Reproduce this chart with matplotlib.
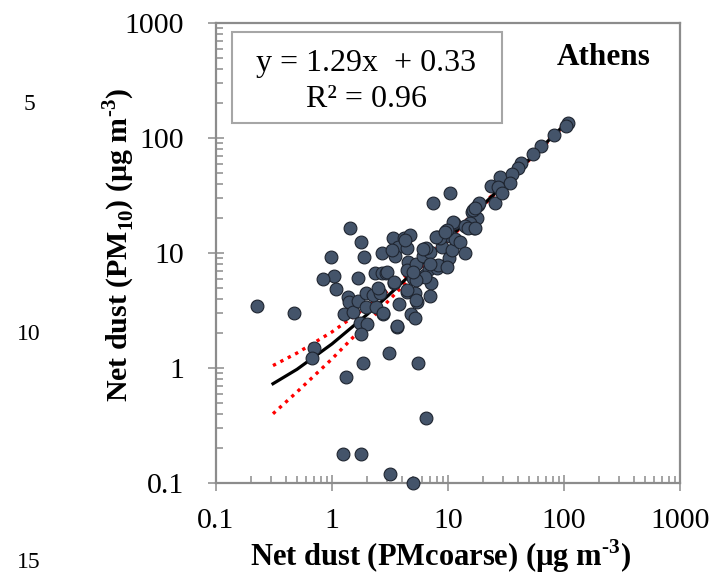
import matplotlib
matplotlib.use("Agg")
import matplotlib.pyplot as plt
from matplotlib.patches import Rectangle
from matplotlib.ticker import FixedLocator, FixedFormatter, LogLocator, NullFormatter

plt.rcParams['font.family'] = ['Liberation Serif', 'DejaVu Serif']
plt.rcParams['mathtext.fontset'] = 'custom'
plt.rcParams['mathtext.rm'] = 'Liberation Serif:bold'
plt.rcParams['mathtext.bf'] = 'Liberation Serif:bold'

# net dust PMcoarse (x) vs net dust PM10 (y), ug/m3
pm_coarse = [0.227, 0.47, 0.70, 0.67, 0.975, 1.04, 0.83, 1.08,
             1.43, 1.77, 1.89, 1.69, 1.38, 1.41, 1.28, 1.51, 1.69, 1.96, 1.96, 1.74,
             2.02, 1.77, 1.84, 1.32, 1.24, 1.77, 3.16, 4.96, 6.46, 5.55, 3.12, 3.66,
             2.77, 2.39, 2.27, 2.59, 2.51, 2.35, 2.68, 2.92, 2.68, 3.38, 4.18, 4.70,
             3.73, 4.40, 3.49, 3.27, 3.42, 3.80, 4.46, 5.20, 5.44, 4.77, 5.20, 4.55,
             4.40, 5.30, 5.02, 5.55, 6.05, 6.46, 6.99, 6.34, 6.90, 7.10, 6.99, 8.10,
             8.10, 8.80, 9.60, 10.5, 9.70, 10.1, 10.8, 11.5, 12.7, 14.0, 11.3, 14.5,
             16.0, 16.7, 17.7, 18.2, 25.4, 7.40, 10.4, 23.3, 28.0, 16.5, 11.1, 109,
             104, 82, 63, 54, 42.4, 40.4, 35.4, 34.2, 27.2, 29.0, 18.6, 17.1,
             15.5, 9.8, 8.5, 4.3, 6.46, 6.12, 7.95, 9.4, 14.0, 15.0, 17.1, 8.2,
             9.8, 7.0, 6.3, 5.3, 5.0, 2.96, 3.4, 4.4, 5.3, 2.76, 3.6]
pm10_dust = [3.46, 2.99, 1.49, 1.22, 9.2, 6.3, 5.9, 4.9,
             16.4, 12.5, 9.2, 6.1, 4.17, 3.77, 2.95, 3.09, 3.83, 4.52, 3.37, 2.45,
             2.41, 1.98, 1.11, 0.84, 0.18, 0.18, 0.12, 0.10, 0.365, 1.11, 1.36, 2.29,
             2.95, 3.37, 4.31, 4.52, 4.93, 6.75, 6.75, 6.75, 10.1, 13.4, 13.4, 14.4,
             11.3, 11.0, 9.4, 10.6, 5.52, 3.60, 4.60, 4.52, 3.77, 2.95, 2.70, 8.4,
             7.1, 8.1, 6.1, 6.03, 9.4, 10.8, 10.3, 6.44, 7.2, 5.45, 4.23, 7.36,
             13.7, 11.3, 15.6, 14.1, 7.9, 9.0, 10.6, 13.2, 12.5, 10.1, 18.3, 16.9,
             22.9, 16.4, 20.0, 26.0, 27.0, 27.0, 33.0, 38.3, 46.0, 23.6, 18.7, 136,
             127, 106, 85, 72.6, 61, 54.5, 48.7, 40.8, 37.8, 33.0, 27.4, 24.5,
             18.1, 15.8, 13.4, 13.1, 11.0, 10.8, 13.7, 15.3, 17.2, 16.4, 16.4, 7.9,
             7.6, 8.1, 6.2, 5.8, 6.8, 6.8, 5.6, 4.76, 3.9, 2.98, 2.32]

# regression line y = 1.29x + 0.33 and its confidence band
fit_x = [0.31, 0.5, 1, 2, 3, 5, 10, 20, 50, 110]
fit_y = [0.73, 0.975, 1.62, 2.91, 4.2, 6.78, 13.2, 26.1, 64.8, 142]
band_hi = [1.05, 1.35, 2.06, 3.40, 4.65, 7.15, 13.5, 26.5, 65.6, 144]
band_lo = [0.40, 0.62, 1.20, 2.45, 3.75, 6.40, 12.9, 25.7, 64.0, 140]

xticks = [0.1, 1, 10, 100, 1000]
tick_labels = ['0.1', '1', '10', '100', '1000']

W, H = 716, 582
fig = plt.figure(figsize=(W / 100, H / 100), dpi=100)
ax = fig.add_axes([216 / W, 1 - 483 / H, (680 - 216) / W, (483 - 23) / H])

ax.plot(fit_x, band_hi, color='red', lw=2.4, linestyle=(0, (1, 1.5)), zorder=2)
ax.plot(fit_x, band_lo, color='red', lw=2.4, linestyle=(0, (1, 1.5)), zorder=2)
ax.plot(fit_x, fit_y, color='black', lw=2.3, zorder=3)
ax.scatter(pm_coarse, pm10_dust, s=85, color='#44546a', edgecolors='#1f2530',
           linewidths=0.8, zorder=4, clip_on=False)

ax.set_xscale('log')
ax.set_yscale('log')
ax.set_xlim(0.1, 1000)
ax.set_ylim(0.1, 1000)

gray = '#8c8c8c'
for axis in (ax.xaxis, ax.yaxis):
    axis.set_major_locator(FixedLocator(xticks))
    axis.set_major_formatter(FixedFormatter(tick_labels))
    axis.set_minor_locator(LogLocator(base=10, subs=range(2, 10)))
    axis.set_minor_formatter(NullFormatter())
ax.tick_params(which='major', direction='inout', length=12, width=1.1, color=gray,
               labelsize=21.5, pad=12)
ax.tick_params(which='minor', direction='in', length=5, width=1.1, color=gray)
ax.tick_params(axis='y', which='major', pad=17)
for sp in ax.spines.values():
    sp.set_color(gray)
    sp.set_linewidth(1.6)

# labels
fig.text(441 / W, 1 - 556 / H, r'Net dust (PMcoarse) (µg m$^{\text{-}3}$)',
         fontsize=22, fontweight='bold', ha='center', va='center')
fig.text(119 / W, 1 - 245 / H, r'Net dust (PM$_{10}$) (µg m$^{\text{-}3}$)',
         fontsize=21.5, fontweight='bold', ha='center', va='center', rotation=90)

# equation box
fig.patches.append(Rectangle((232 / W, 1 - 123 / H), (502 - 232) / W, (123 - 32) / H,
                             transform=fig.transFigure, facecolor='white',
                             edgecolor='#a6a6a6', lw=1.5, zorder=5))
fig.text(366 / W, 1 - 71 / H, 'y = 1.29x  + 0.33', fontsize=23, ha='center',
         va='baseline', zorder=6)
fig.text(366 / W, 1 - 107 / H, 'R² = 0.96', fontsize=23, ha='center',
         va='baseline', zorder=6)
fig.text(557 / W, 1 - 65 / H, 'Athens', fontsize=22.5, fontweight='bold',
         ha='left', va='baseline')

# manuscript line numbers
for num, ypix in [('5', 105), ('10', 335), ('15', 563)]:
    fig.text(29 / W, 1 - ypix / H, num, fontsize=17, ha='center', va='center')

fig.savefig('out.png', dpi=100)
